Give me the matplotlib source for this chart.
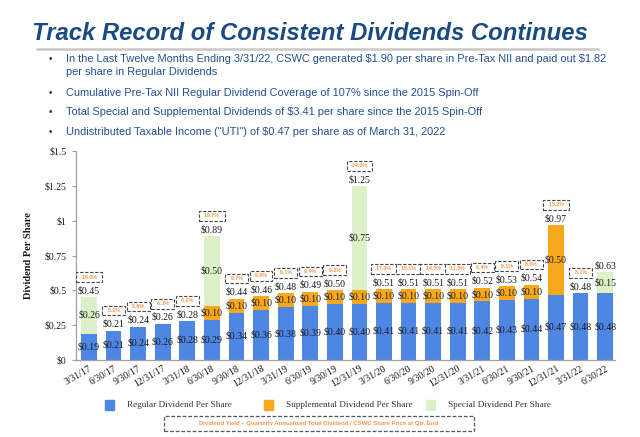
import matplotlib.pyplot as plt
from matplotlib.patches import Rectangle
from matplotlib.lines import Line2D
import numpy as np

plt.rcParams['text.parse_math'] = False

quarters = ['3/31/17', '6/30/17', '9/30/17', '12/31/17', '3/31/18', '6/30/18',
            '9/30/18', '12/31/18', '3/31/19', '6/30/19', '9/30/19', '12/31/19',
            '3/31/20', '6/30/20', '9/30/20', '12/31/20', '3/31/21', '6/30/21',
            '9/30/21', '12/31/21', '3/31/22', '6/30/22']
regular = [0.19, 0.21, 0.24, 0.26, 0.28, 0.29, 0.34, 0.36, 0.38, 0.39, 0.40,
           0.40, 0.41, 0.41, 0.41, 0.41, 0.42, 0.43, 0.44, 0.47, 0.48, 0.48]
supplemental = [0, 0, 0, 0, 0, 0.10, 0.10, 0.10, 0.10, 0.10, 0.10, 0.10,
                0.10, 0.10, 0.10, 0.10, 0.10, 0.10, 0.10, 0.50, 0, 0]
special = [0.26, 0, 0, 0, 0, 0.50, 0, 0, 0, 0, 0, 0.75,
           0, 0, 0, 0, 0, 0, 0, 0, 0, 0.15]
yields = ['18.0%', '5.2%', '5.6%', '6.3%', '6.0%', '19.7%', '9.7%', '9.6%',
          '9.1%', '9.4%', '9.2%', '24.0%', '17.0%', '15.1%', '14.5%', '11.5%',
          '9.4%', '9.1%', '8.6%', '15.2%', '8.1%', None]

title = 'Track Record of Consistent Dividends Continues'
bullets = [
    ['In the Last Twelve Months Ending 3/31/22, CSWC generated $1.90 per share in Pre-Tax NII and paid out $1.82',
     'per share in Regular Dividends'],
    ['Cumulative Pre-Tax NII Regular Dividend Coverage of 107% since the 2015 Spin-Off'],
    ['Total Special and Supplemental Dividends of $3.41 per share since the 2015 Spin-Off'],
    ['Undistributed Taxable Income ("UTI") of $0.47 per share as of March 31, 2022'],
]

BLUE = '#4e86e4'
ORANGE = '#f8a81c'
GREEN = '#dcf1c8'
YIELD_ORANGE = '#f79646'
NAVY = '#1a4a82'
TEXT_BLUE = '#24508f'
SERIF = 'Liberation Serif'
SANS = 'Liberation Sans'

W, H = 640, 437
fig = plt.figure(figsize=(6.4, 4.37), dpi=100)

def fx(px):
    return px / W

def fy(py):
    return 1 - py / H

# title + rule
fig.text(fx(32), fy(33), title, fontsize=17.2, fontweight='bold', style='italic',
         color=NAVY, family=SANS, va='center', ha='left')
fig.add_artist(Line2D([fx(37), fx(598)], [fy(49), fy(49)], color='#c8c8c8', lw=1.8))

# bullets
line_y = [[59, 72], [93], [112], [132]]
for lines, ys in zip(bullets, line_y):
    fig.text(fx(50), fy(ys[0]), '•', fontsize=7, color='#333333', family=SANS,
             va='center', ha='center')
    for txt, y in zip(lines, ys):
        fig.text(fx(66), fy(y), txt, fontsize=7.95, color=TEXT_BLUE, family=SANS,
                 va='center', ha='left')

# chart
ax = fig.add_axes([fx(76), fy(360), fx(615 - 76), (360 - 151) / H])
x = np.arange(len(quarters))
reg = np.array(regular)
sup = np.array(supplemental)
spe = np.array(special)
bw = 0.64
ax.bar(x, reg, bw, color=BLUE, zorder=2)
ax.bar(x, sup, bw, bottom=reg, color=ORANGE, zorder=2)
ax.bar(x, spe, bw, bottom=reg + sup, color=GREEN, zorder=2)

lab_kw = dict(fontsize=7, family=SERIF, color='#1a1a1a', ha='center', va='center', zorder=3)
for i in x:
    ax.text(i, reg[i] / 2, f'${reg[i]:.2f}', **lab_kw)
    if sup[i] > 0:
        ax.text(i, reg[i] + sup[i] / 2, f'${sup[i]:.2f}', **lab_kw)
    if spe[i] > 0:
        ax.text(i, reg[i] + sup[i] + spe[i] / 2, f'${spe[i]:.2f}', **lab_kw)
    tot = reg[i] + sup[i] + spe[i]
    ax.annotate(f'${tot:.2f}', (i, tot), xytext=(0, 1.3), textcoords='offset points',
                fontsize=7, family=SERIF, color='#1a1a1a', ha='center', va='bottom')
    if yields[i]:
        ax.annotate(f'  {yields[i]}  ', (i, tot), xytext=(0, 14.5), textcoords='offset points',
                    fontsize=3.8, fontweight='bold', family=SANS, color=YIELD_ORANGE,
                    ha='center', va='center',
                    bbox=dict(boxstyle='square,pad=0.45', fc='white', ec='#444444',
                              ls=(0, (3, 1.5)), lw=0.8))

ax.set_xlim(-0.53, 21.4)
ax.set_ylim(0, 1.5)
yt = [0, 0.25, 0.5, 0.75, 1, 1.25, 1.5]
ax.set_yticks(yt)
ax.set_yticklabels(['$0', '$0.25', '$0.5', '$0.75', '$1', '$1.25', '$1.5'],
                   family=SERIF, fontsize=7, color='#1a1a1a')
ax.set_xticks(x)
ax.set_xticklabels(quarters, rotation=30, ha='right', va='top', rotation_mode='anchor',
                   family=SERIF, fontsize=7, color='#1a1a1a')
ax.tick_params(axis='x', length=0, pad=3)
ax.tick_params(axis='y', length=3, width=0.8, color='#a0a0a0', pad=4)
for s in ['top', 'right']:
    ax.spines[s].set_visible(False)
for s in ['left', 'bottom']:
    ax.spines[s].set_color('#a0a0a0')
    ax.spines[s].set_linewidth(0.9)
ax.set_ylabel('Dividend Per Share', family=SERIF, fontweight='bold', fontsize=7.5,
              color='#1a1a1a', labelpad=8)

# legend
legend_items = [(105, BLUE, 'Regular Dividend Per Share'),
                (264, ORANGE, 'Supplemental Dividend Per Share'),
                (426, GREEN, 'Special Dividend Per Share')]
for px, col, lab in legend_items:
    fig.add_artist(Rectangle((fx(px), fy(410)), fx(9), 10 / H, color=col,
                             transform=fig.transFigure))
    fig.text(fx(px + 22), fy(405), lab, fontsize=6.7, family=SERIF, color='#333333',
             va='center', ha='left')

# yield footnote box
fig.add_artist(Rectangle((fx(164), fy(431)), fx(474 - 164), 15 / H, fill=False,
                         ec='#555555', ls=(0, (3, 1.5)), lw=0.9, transform=fig.transFigure))
fig.text(fx(319), fy(423.5),
         'Dividend Yield \u2013 Quarterly Annualized Total Dividend / CSWC Share Price at Qtr. End',
         fontsize=4.3, fontweight='bold', family=SANS, color=YIELD_ORANGE,
         ha='center', va='center')

fig.savefig('out.png', dpi=100)
